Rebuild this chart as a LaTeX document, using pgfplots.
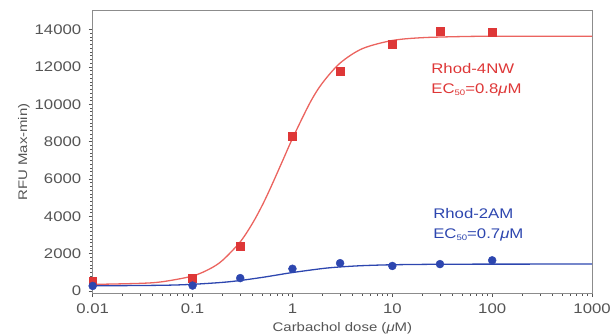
\documentclass[border=0pt]{standalone}
\usepackage{pgfplots}
\pgfplotsset{compat=1.18}
\usepackage{fontspec}
\setmainfont{Liberation Sans}[FakeStretch=1.2]
\definecolor{rred}{RGB}{222,55,55}
\definecolor{rline}{RGB}{235,100,95}
\definecolor{bblue}{RGB}{45,70,175}
\definecolor{tgray}{RGB}{85,85,85}
\definecolor{agray}{RGB}{140,140,140}
\begin{document}
\begin{tikzpicture}
\useasboundingbox (-93pt,-42pt) rectangle (522pt,294pt);
\begin{axis}[
  at={(0pt,0pt)}, anchor=south west,
  scale only axis, width=501pt, height=283pt,
  xmode=log, xmin=0.01, xmax=1000,
  ymin=-100, ymax=15000,
  xtick={0.01,0.1,1,10,100,1000},
  xticklabels={0.01,0.1,1,10,100,1000},
  ytick={0,2000,4000,6000,8000,10000,12000,14000},
  minor y tick num=9,
  scaled y ticks=false,
  yticklabel style={/pgf/number format/1000 sep={}, xshift=-4pt},
  xticklabel style={yshift=-3pt},
  /pgf/number format/assume math mode=true,
  tick align=outside,
  xtick pos=bottom, ytick pos=left,
  major tick length=4pt, minor tick length=2.5pt,
  tick style={tgray, line width=0.7pt},
  axis line style={agray, line width=1pt},
  ticklabel style={font=\fontsize{14}{14}\selectfont, text=tgray},
  xlabel={Carbachol dose (\textit{μ}M)},
  ylabel={RFU Max-min)},
  label style={font=\fontsize{12.5}{12.5}\selectfont, text=tgray},
  xlabel style={yshift=-2pt},
  ylabel style={yshift=-2pt},
  clip=false,
]
% red fitted curve
\addplot[rline, line width=1.3pt, smooth] coordinates {
(0.01,362) (0.03,419) (0.05,506) (0.1,810) (0.15,1205) (0.2,1655) (0.3,2640)
(0.4,3650) (0.5,4610) (0.6,5500) (0.8,7000) (1,8170) (1.5,10090) (2,11150)
(3,12210) (5,12980) (10,13420) (20,13570) (50,13630) (100,13645) (1000,13650)};
% blue fitted curve
\addplot[bblue, line width=1.3pt, smooth] coordinates {
(0.01,285) (0.05,316) (0.1,367) (0.2,472) (0.3,572) (0.5,739) (0.7,865)
(1,998) (2,1212) (3,1297) (5,1366) (10,1414) (30,1441) (100,1448) (1000,1450)};
% red points
\addplot[only marks, mark=square*, mark size=4pt, rred] coordinates {
(0.01,550) (0.1,700) (0.3,2400) (1,8300) (3,11800) (10,13200) (30,13900) (100,13850)};
% blue points
\addplot[only marks, mark=*, mark size=4pt, bblue] coordinates {
(0.01,280) (0.1,300) (0.3,700) (1,1200) (3,1500) (10,1350) (30,1450) (100,1650)};
\node[anchor=base west, text=rred, font=\fontsize{14}{14}\selectfont, inner sep=0pt] at (axis cs:24.5,11650) {Rhod-4NW};
\node[anchor=base west, text=rred, font=\fontsize{14}{14}\selectfont, inner sep=0pt] at (axis cs:24.5,10585) {EC\raisebox{-0.3ex}{\fontsize{8}{8}\selectfont 50}=0.8\textit{μ}M};
\node[anchor=base west, text=bblue, font=\fontsize{14}{14}\selectfont, inner sep=0pt] at (axis cs:25.6,3880) {Rhod-2AM};
\node[anchor=base west, text=bblue, font=\fontsize{14}{14}\selectfont, inner sep=0pt] at (axis cs:25.6,2820) {EC\raisebox{-0.3ex}{\fontsize{8}{8}\selectfont 50}=0.7\textit{μ}M};
\end{axis}
\end{tikzpicture}
\end{document}
